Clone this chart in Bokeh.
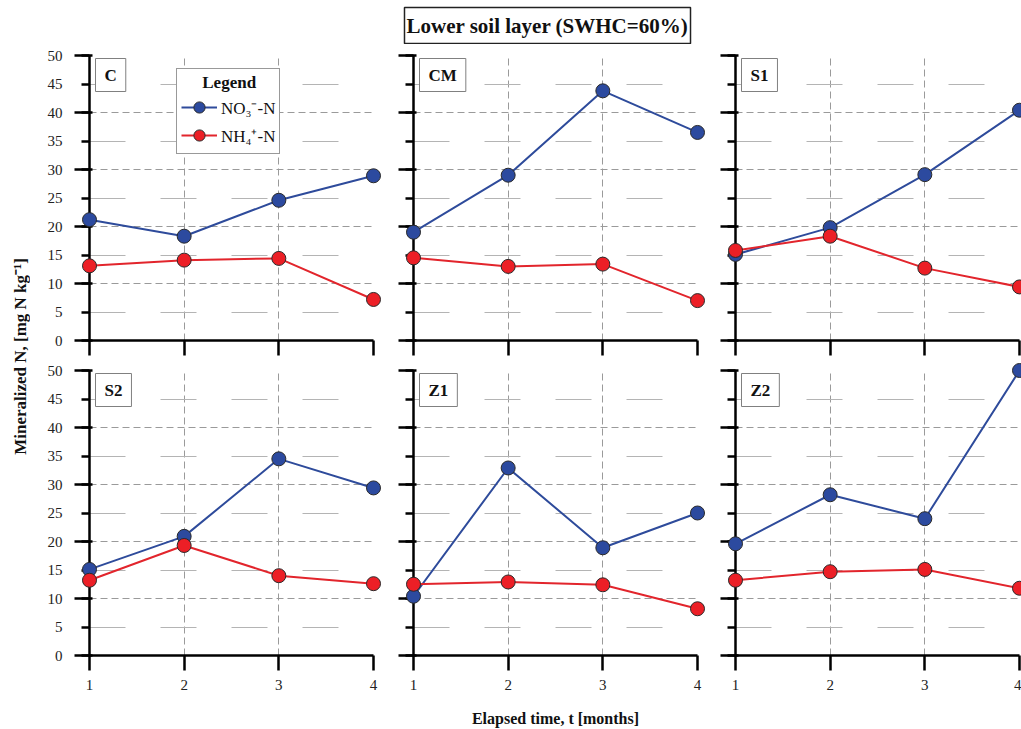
import math
from bokeh.plotting import figure
from bokeh.layouts import column, row
from bokeh.models import Label, FixedTicker, Range1d
from bokeh.embed import file_html
from bokeh.resources import INLINE

# Sampling times (months) and the six soil treatments
months = [1, 2, 3, 4]
treatments = ["C", "CM", "S1", "S2", "Z1", "Z2"]

# Mineralized nitrogen, mg N per kg soil
no3_C = [21.2, 18.3, 24.6, 28.9]
nh4_C = [13.1, 14.1, 14.4, 7.2]
no3_CM = [19.0, 29.0, 43.8, 36.5]
nh4_CM = [14.5, 13.0, 13.4, 7.0]
no3_S1 = [15.1, 19.8, 29.1, 40.4]
nh4_S1 = [15.8, 18.3, 12.7, 9.4]
no3_S2 = [15.1, 20.9, 34.5, 29.4]
nh4_S2 = [13.2, 19.3, 14.0, 12.6]
no3_Z1 = [10.4, 32.9, 18.9, 25.0]
nh4_Z1 = [12.5, 12.9, 12.4, 8.2]
no3_Z2 = [19.6, 28.2, 24.0, 50.0]
nh4_Z2 = [13.2, 14.7, 15.1, 11.8]

no3_series = [no3_C, no3_CM, no3_S1, no3_S2, no3_Z1, no3_Z2]
nh4_series = [nh4_C, nh4_CM, nh4_S1, nh4_S2, nh4_Z1, nh4_Z2]

y_labelled = [0, 5, 10, 15, 20, 25, 30, 35, 40, 45, 50]
y_long = [0, 10, 20, 30, 40, 50]
y_half = [5, 15, 25, 35, 45]

FONT = "Liberation Serif"
BLUE_FILL = "#2c4a9f"
BLUE_LINE = "#2e4b9b"
RED_FILL = "#ec1f26"
RED_LINE = "#e2252c"
EDGE = "#2a2a2a"

FRAME_W, FRAME_H = 284, 285
BORDER_L = [59, 20, 19]
BORDER_R = [20, 19, 2]
BORDER_T = [11, 12]
BORDER_B = [18, 74]


def hide_labels(ax):
    # ticks only, no tick labels
    ax.major_label_text_color = None
    ax.major_label_text_alpha = 0
    ax.major_label_text_font_size = "1px"
    ax.major_label_standoff = 0


def make_panel(idx):
    r, c = divmod(idx, 3)
    p = figure(frame_width=FRAME_W, frame_height=FRAME_H,
               x_range=Range1d(1, 4), y_range=Range1d(0, 50),
               output_backend="svg", toolbar_location=None,
               min_border_left=BORDER_L[c], min_border_right=BORDER_R[c],
               min_border_top=BORDER_T[r], min_border_bottom=BORDER_B[r],
               outline_line_color=None, background_fill_color="white",
               border_fill_color="white")

    xa, ya = p.xaxis[0], p.yaxis[0]
    xa.ticker = FixedTicker(ticks=months)
    ya.ticker = FixedTicker(ticks=y_labelled, minor_ticks=y_long)
    for ax in (xa, ya):
        ax.axis_line_color = "black"
        ax.axis_line_width = 2.5
        ax.major_tick_line_color = "black"
        ax.major_tick_line_width = 2.5
        ax.major_label_text_font = FONT
        ax.major_label_text_font_size = "15px"
        ax.major_label_text_color = "#222222"
    xa.major_tick_out = 15
    xa.major_tick_in = 0
    xa.minor_tick_line_color = None
    xa.major_label_standoff = 9
    ya.major_tick_out = 8
    ya.major_tick_in = 0
    ya.minor_tick_out = 15
    ya.minor_tick_in = 3
    ya.minor_tick_line_color = "black"
    ya.minor_tick_line_width = 2.5
    ya.major_label_standoff = 12

    if r == 0:
        hide_labels(xa)
    if c > 0:
        hide_labels(ya)

    p.xgrid.ticker = FixedTicker(ticks=months)
    p.xgrid.grid_line_color = "#9a9a9a"
    p.xgrid.grid_line_dash = "7 4"
    p.xgrid.grid_line_width = 1
    p.ygrid.ticker = FixedTicker(ticks=y_long, minor_ticks=y_half)
    p.ygrid.grid_line_color = "#9a9a9a"
    p.ygrid.grid_line_dash = "7 4"
    p.ygrid.grid_line_width = 1
    p.ygrid.minor_grid_line_color = "#b4b4b4"
    p.ygrid.minor_grid_line_dash = "36 35"
    p.ygrid.minor_grid_line_width = 1.2

    no3, nh4 = no3_series[idx], nh4_series[idx]
    leg = {} if idx else {"legend_label": "NO\u2083\u207b-N"}
    p.line(months, no3, line_color=BLUE_LINE, line_width=2, **leg)
    p.scatter(months, no3, size=14, fill_color=BLUE_FILL, line_color=EDGE,
              line_width=1, level="overlay", **leg)
    leg = {} if idx else {"legend_label": "NH\u2084\u207a-N"}
    p.line(months, nh4, line_color=RED_LINE, line_width=2, **leg)
    p.scatter(months, nh4, size=14, fill_color=RED_FILL, line_color=EDGE,
              line_width=1, level="overlay", **leg)

    p.add_layout(Label(x=6, y=FRAME_H - 3, x_units="screen", y_units="screen",
                       text=treatments[idx], text_font=FONT, text_font_size="17px",
                       text_font_style="bold", text_color="#111111",
                       text_align="left", text_baseline="top",
                       padding=(9, 7), border_line_color="#808080",
                       border_line_width=1, background_fill_color="white"))

    if idx == 0:
        lg = p.legend[0]
        lg.location = (87, 186)
        lg.title = "\u00a0\u00a0\u00a0\u00a0\u00a0Legend"
        lg.title_text_font = FONT
        lg.title_text_font_size = "17px"
        lg.title_text_font_style = "bold"
        lg.title_text_color = "#111111"
        lg.title_standoff = 0
        lg.label_text_font = FONT
        lg.label_text_font_size = "17px"
        lg.label_text_color = "#111111"
        lg.glyph_width = 36
        lg.glyph_height = 28
        lg.label_height = 28
        lg.label_standoff = 4
        lg.spacing = 0
        lg.padding = 4
        lg.margin = 0
        lg.border_line_color = "#333333"
        lg.border_line_width = 1.5
        lg.background_fill_color = "white"
        lg.background_fill_alpha = 1

    if idx == 4:
        xa.axis_label = "Elapsed time, t [months]"
        xa.axis_label_text_font = FONT
        xa.axis_label_text_font_size = "16px"
        xa.axis_label_text_font_style = "bold"
        xa.axis_label_text_color = "#111111"
        xa.axis_label_standoff = 17
    return p


panels = [make_panel(i) for i in range(6)]

# Figure heading
head = figure(width=1021, height=44, x_range=Range1d(0, 1), y_range=Range1d(0, 1),
              x_axis_type=None, y_axis_type=None, min_border=0,
              outline_line_color=None, toolbar_location=None, output_backend="svg")
head.grid.visible = False
head.add_layout(Label(x=547, y=19, x_units="screen", y_units="screen",
                      text="Lower soil layer (SWHC=60%)", text_font=FONT,
                      text_font_size="21px", text_font_style="bold",
                      text_color="#111111", text_align="center",
                      text_baseline="middle", padding=(2, 6),
                      border_line_color="#222222", border_line_width=1.5,
                      background_fill_color="white"))

# Shared vertical axis title
side = figure(width=30, height=685, x_range=Range1d(0, 1), y_range=Range1d(0, 1),
              x_axis_type=None, y_axis_type=None, min_border=0,
              outline_line_color=None, toolbar_location=None, output_backend="svg")
side.grid.visible = False
side.add_layout(Label(x=20, y=373, x_units="screen", y_units="screen",
                      text="Mineralized N, [mg N kg\u207b\u00b9]", text_font=FONT,
                      text_font_size="17px", text_font_style="bold",
                      text_color="#111111", text_align="center",
                      text_baseline="middle", angle=math.pi / 2))

layout = column(head, row(side, column(row(*panels[:3]), row(*panels[3:]))))

open("out.html", "w").write(file_html(layout, INLINE))
